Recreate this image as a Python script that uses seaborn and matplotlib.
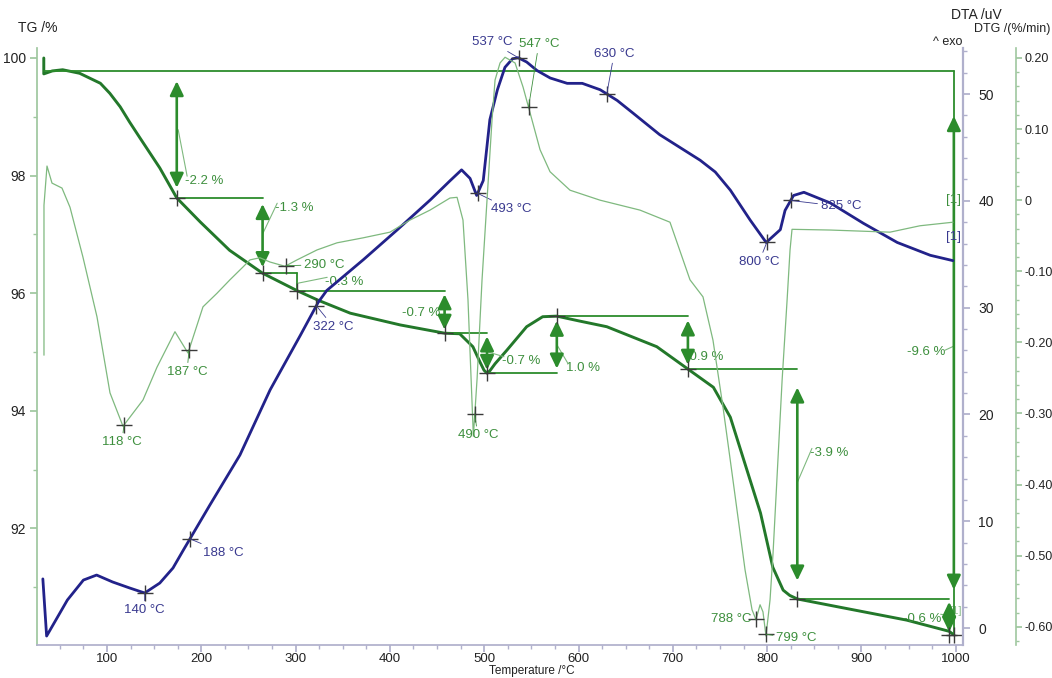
import numpy as np
import matplotlib
matplotlib.use("Agg")
import matplotlib.pyplot as plt
import seaborn as sns
from matplotlib.ticker import MultipleLocator, FuncFormatter

# ---------------------------------------------------------------- data
# TG curve (mass %, left axis)
tg_temp = [33, 33, 42, 53, 71, 93, 103, 114, 124, 135, 156, 174, 199, 230, 265,
           302, 324, 358, 411, 458, 474, 488, 495.5, 499.8, 503, 506, 511.5, 524,
           545, 562, 577, 600, 630, 683, 716, 743, 761, 771, 782, 793, 806, 817,
           824, 832, 877, 948, 993, 998]
tg_mass = [100.0, 99.73, 99.78, 99.80, 99.74, 99.57, 99.40, 99.17, 98.91, 98.64,
           98.13, 97.62, 97.21, 96.73, 96.34, 96.04, 95.88, 95.66, 95.46, 95.32,
           95.31, 95.09, 94.83, 94.69, 94.64, 94.68, 94.80, 95.03, 95.43, 95.60,
           95.61, 95.53, 95.43, 95.09, 94.71, 94.40, 93.89, 93.38, 92.82, 92.26,
           91.34, 90.95, 90.86, 90.80, 90.66, 90.44, 90.25, 90.19]

# DTA curve (uV, first right axis)
dta_temp = [32, 36, 58, 75, 89, 106, 124, 140, 156, 170, 181, 209, 241, 273, 305,
            324, 333, 372, 408, 443, 464, 476, 485, 492, 499, 506, 514, 522, 530,
            536, 545, 556, 570, 588, 604, 623, 641, 658, 686, 729, 745, 761, 782,
            799, 814, 819, 828, 839, 867, 902, 938, 973, 997]
dta_uv = [4.6, -0.75, 2.62, 4.49, 4.96, 4.31, 3.75, 3.28, 4.21, 5.62, 7.30, 11.5,
          16.2, 22.3, 27.4, 30.5, 31.6, 34.5, 37.3, 40.1, 41.9, 42.9, 42.1, 40.5,
          41.9, 47.6, 50.4, 52.5, 53.3, 53.4, 53.0, 52.2, 51.5, 51.0, 51.0, 50.4,
          49.4, 48.2, 46.2, 43.8, 42.7, 41.0, 38.2, 36.1, 37.3, 39.1, 40.5, 40.8,
          39.8, 37.9, 36.1, 34.9, 34.4]

# DTG curve (%/min, second right axis)
dtg_temp = [33.2, 33.2, 36.4, 41.7, 52.3, 60.8, 74.5, 89.4, 103.2, 117.0, 138.2,
            153.0, 172.1, 185.9, 201.8, 216.6, 230.4, 244.2, 251.6, 262.2, 272.9,
            288.8, 301.5, 322.7, 343.9, 371.5, 400.1, 421.3, 442.5, 463.7, 471.2,
            477.5, 482.8, 488.5, 492.5, 497.7, 508.3, 511.5, 516.8, 522.1, 532.7,
            541.2, 548.6, 559.2, 569.8, 591.0, 622.8, 665.2, 697.0, 718.2, 732.0,
            742.6, 753.2, 762.8, 776.6, 784.0, 788.2, 792.5, 795.6, 798.8, 803.1,
            806.3, 815.9, 821.2, 824.3, 826.4, 866.7, 930.3, 962.1, 997.1]
dtg_rate = [-0.218, -0.007, 0.048, 0.024, 0.017, -0.010, -0.080, -0.164, -0.271,
            -0.318, -0.281, -0.235, -0.185, -0.215, -0.150, -0.131, -0.112,
            -0.094, -0.084, -0.081, -0.087, -0.093, -0.084, -0.070, -0.060,
            -0.053, -0.045, -0.028, -0.014, 0.003, 0.004, -0.028, -0.140, -0.332,
            -0.250, -0.112, 0.113, 0.169, 0.193, 0.201, 0.193, 0.159, 0.123,
            0.071, 0.040, 0.014, 0.000, -0.014, -0.031, -0.112, -0.136, -0.197,
            -0.291, -0.384, -0.520, -0.576, -0.590, -0.569, -0.579, -0.613,
            -0.562, -0.496, -0.253, -0.140, -0.070, -0.041, -0.042, -0.045,
            -0.036, -0.031]

# mass-loss steps: start level, then level reached at each step temperature
tg_start_level = 99.78
step_temp = [174, 265, 302, 458, 503, 577, 716, 832, 993]
step_level = [97.62, 96.34, 96.04, 95.32, 94.64, 95.61, 94.71, 90.80, 90.19]
total_end_temp = 998

# characteristic temperatures
dta_peaks = [140, 188, 322, 493, 537, 630, 800, 825]
dtg_peaks = [118, 187, 290, 490, 547, 788, 799]

x_ticks = [100, 200, 300, 400, 500, 600, 700, 800, 900, 1000]
tg_ticks = [92, 94, 96, 98, 100]
dta_ticks = [0, 10, 20, 30, 40, 50]
dtg_ticks = [-0.6, -0.5, -0.4, -0.3, -0.2, -0.1, 0.0, 0.1, 0.2]

# ---------------------------------------------------------------- style
sns.set_theme(style="white")
plt.rcParams['font.family'] = ['Liberation Sans', 'DejaVu Sans']
plt.rcParams['axes.unicode_minus'] = False

TG_C = "#23782a"
DTA_C = "#22228a"
DTG_C = "#7fb97f"
ARR_C = "#2c8c2c"
G_TXT = "#3d8f3d"
B_TXT = "#39398f"
MK_C = "#3a3a3a"
AX_G = "#9fc79f"
AX_B = "#b0b0cc"
FS = 9.5

W, H = 1052, 678
fig = plt.figure(figsize=(W / 100, H / 100), dpi=100)
left_px, right_px, bot_px, top_px = 37, 963, 645, 48
ax1 = fig.add_axes([left_px / W, 1 - bot_px / H, (right_px - left_px) / W,
                    (bot_px - top_px) / H])
ax2 = ax1.twinx()
ax3 = ax1.twinx()
for a in (ax1, ax2, ax3):
    a.grid(False)
    a.patch.set_visible(False)

ax1.set_xlim(25.8, 1007.7)
ax1.set_ylim(90.017, 100.17)
ax2.set_ylim(-1.59, 54.31)
ax3.set_ylim(-0.6256, 0.214)

# ---------------------------------------------------------------- curves
sns.lineplot(x=dtg_temp, y=dtg_rate, ax=ax3, color=DTG_C, lw=0.9,
             sort=False, estimator=None)
sns.lineplot(x=dta_temp, y=dta_uv, ax=ax2, color=DTA_C, lw=2.0,
             sort=False, estimator=None)
sns.lineplot(x=tg_temp, y=tg_mass, ax=ax1, color=TG_C, lw=2.1,
             sort=False, estimator=None)
for a in (ax1, ax2, ax3):
    a.set_xlabel("")
    a.set_ylabel("")

# ---------------------------------------------------------------- axes look
ax1.set_xticks(x_ticks)
ax1.xaxis.set_minor_locator(MultipleLocator(25))
ax1.set_yticks(tg_ticks)
ax1.yaxis.set_minor_locator(MultipleLocator(1))
ax2.set_yticks(dta_ticks)
ax2.yaxis.set_minor_locator(MultipleLocator(2))
ax3.set_yticks(dtg_ticks)
ax3.yaxis.set_minor_locator(MultipleLocator(0.02))
ax3.yaxis.set_major_formatter(FuncFormatter(
    lambda v, p: "0" if abs(v) < 1e-9 else f"{v:.2f}"))

for s in ("top", "right"):
    ax1.spines[s].set_visible(False)
ax1.spines["left"].set_color(AX_G)
ax1.spines["bottom"].set_color(AX_B)
for a in (ax2, ax3):
    for s in ("top", "left", "bottom"):
        a.spines[s].set_visible(False)
ax2.spines["right"].set_color(AX_B)
ax2.spines["right"].set_linewidth(1.6)
ax3.spines["right"].set_position(("axes", 1 + 53 / (right_px - left_px)))
ax3.spines["right"].set_color(AX_G)
ax3.spines["right"].set_linewidth(1.2)

ax1.tick_params(axis="x", which="major", length=5, color=AX_B, labelsize=9.5,
                pad=1, bottom=True, direction="out")
ax1.tick_params(axis="x", which="minor", length=3, color=AX_B, bottom=True)
ax1.tick_params(axis="y", which="major", length=5, color=AX_G, labelsize=10,
                left=True, pad=3)
ax1.tick_params(axis="y", which="minor", length=3, color=AX_G, left=True)
ax2.tick_params(axis="y", which="major", length=5, color=AX_B, labelsize=10,
                right=True, pad=6)
ax2.tick_params(axis="y", which="minor", length=3, color=AX_B, right=True)
ax3.tick_params(axis="y", which="major", length=4, color=AX_G, labelsize=9,
                right=True, pad=2)
ax3.tick_params(axis="y", which="minor", length=2.5, color=AX_G, right=True)
for a in (ax1, ax2, ax3):
    for lab in a.get_xticklabels() + a.get_yticklabels():
        lab.set_color("#222222")

fig.text(18 / W, 1 - 28 / H, "TG /%", fontsize=10, va="center", color="#222222")
fig.text(951 / W, 1 - 15 / H, "DTA /uV", fontsize=10, va="center", color="#222222")
fig.text(974 / W, 1 - 29 / H, "DTG /(%/min)", fontsize=9, va="center",
         color="#222222")
fig.text(933 / W, 1 - 42 / H, "^ exo", fontsize=9, va="center", color="#222222")
fig.text(532 / W, 1 - 677 / H, "Temperature /°C", fontsize=8.5, ha="center",
         va="bottom", color="#222222")

# ---------------------------------------------------------------- mass steps
px_per_pct = (bot_px - top_px) / (100.17 - 90.017)
ax1.plot([tg_temp[0], total_end_temp], [tg_start_level] * 2, color=ARR_C, lw=1.3)
levels = [tg_start_level] + step_level
for i in range(len(step_temp) - 1):
    ax1.plot([step_temp[i], step_temp[i + 1]], [step_level[i]] * 2,
             color=ARR_C, lw=1.3, zorder=3)


def vertical_arrow(x, y0, y1):
    length_pt = abs(y1 - y0) * px_per_pct * 0.72
    if length_pt < 20:
        ax1.plot([x, x], [y0, y1], color=ARR_C, lw=1.3, zorder=4)
        return
    shrink = 0.08 * length_pt
    ax1.annotate("", xy=(x, y1), xytext=(x, y0),
                 arrowprops=dict(arrowstyle="<|-|>,head_length=0.5,head_width=0.24",
                                 mutation_scale=17, color=ARR_C, lw=1.9,
                                 shrinkA=shrink, shrinkB=shrink), zorder=5)


for i, x in enumerate(step_temp):
    vertical_arrow(x, levels[i], levels[i + 1])
ax1.plot([total_end_temp, total_end_temp], [tg_start_level, step_level[-1]],
         color=ARR_C, lw=1.3, zorder=3)
vertical_arrow(total_end_temp, tg_start_level, step_level[-1])

ax1.plot(step_temp + [total_end_temp], step_level + [step_level[-1]], ls="none",
         marker="+", ms=11, mew=1.0, color=MK_C, zorder=6)

# percentage labels: (text position T, TG, alignment, leader start or None)
step_changes = np.diff(levels)
pct_layout = [
    ((183.0, 97.91), "left", (175.5, 98.78)),
    ((278.5, 97.45), "left", (265.4, 97.02)),
    ((331.5, 96.19), "left", (302.5, 96.17)),
    ((453.0, 95.66), "right", None),
    ((519.0, 94.84), "left", (504.0, 95.00)),
    ((587.0, 94.72), "left", (577.2, 95.12)),
    ((712.5, 94.91), "left", None),
    ((845.5, 93.28), "left", (831.7, 92.77)),
    ((985.0, 90.46), "right", (992.0, 90.52)),
]
for d, ((tx, ty), ha, lead) in zip(step_changes, pct_layout):
    ax1.text(tx, ty, f"{d:.1f} %", color=G_TXT, fontsize=FS, ha=ha,
             va="center", zorder=4)
    if lead is not None:
        ax1.plot([lead[0], tx + (2 if ha == "left" else -1)],
                 [lead[1], ty + 0.08], color=DTG_C, lw=0.8, zorder=4)
total_change = step_level[-1] - tg_start_level
ax1.text(989.5, 95.0, f"{total_change:.1f} %", color=G_TXT, fontsize=FS,
         ha="right", va="center")
ax1.plot([988.5, total_end_temp], [95.03, 95.10], color=DTG_C, lw=0.8)

# ---------------------------------------------------------------- peak labels
def peak_marks(ax, temps, xs, ys, offsets, color):
    for t, (dx, dy, ha) in zip(temps, offsets):
        y = float(np.interp(t, xs, ys))
        ax.plot([t], [y], ls="none", marker="+", ms=11, mew=1.0, color=MK_C,
                zorder=6)
        ax.annotate(f"{t} °C", xy=(t, y), xytext=(dx * 0.72, dy * 0.72),
                    textcoords="offset points", ha=ha, va="center",
                    fontsize=FS, color=color,
                    arrowprops=dict(arrowstyle="-", color=color, lw=0.6,
                                    shrinkA=0, shrinkB=0, relpos=(0.5, 0.5)),
                    zorder=6, annotation_clip=False)


dta_offsets = [(0, -17, "center"), (13, -14, "left"), (17, -21, "center"),
               (13, -16, "left"), (-7, 16, "right"), (-13, 40, "left"),
               (-8, -20, "center"), (30, -6, "left")]
dtg_offsets = [(-2, -17, "center"), (-2, -22, "center"), (18, 1, "left"),
               (3, -21, "center"), (-10, 63, "left"), (-4, 0, "right"),
               (10, -4, "left")]
peak_marks(ax2, dta_peaks, dta_temp, dta_uv, dta_offsets, B_TXT)
peak_marks(ax3, dtg_peaks, dtg_temp, dtg_rate, dtg_offsets, G_TXT)

ax3.text(989.5, 0.0, "[1]", color=G_TXT, fontsize=FS, ha="left", va="center")
ax2.text(989.5, 36.6, "[1]", color=B_TXT, fontsize=FS, ha="left", va="center")
ax1.text(993.5, 90.6, "[1]", color=G_TXT, fontsize=8, ha="left", va="center",
         alpha=0.6)

fig.savefig("out.png", dpi=100)
